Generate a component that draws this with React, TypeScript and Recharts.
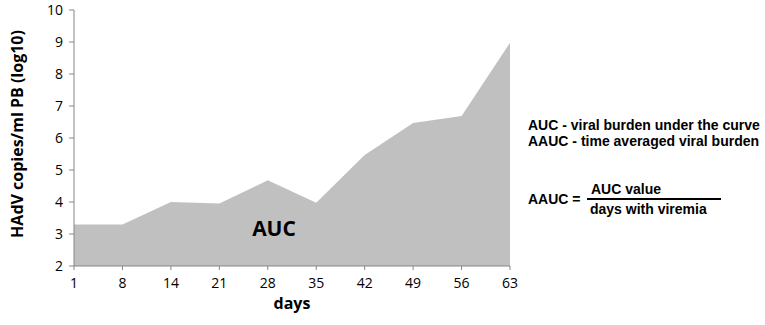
import { AreaChart, Area, XAxis, YAxis } from 'recharts';

const days = ['1', '8', '14', '21', '28', '35', '42', '49', '56', '63'];
const viralLoad = [3.3, 3.3, 4.0, 3.95, 4.68, 3.98, 5.47, 6.47, 6.69, 8.98];
const yTicks = [2, 3, 4, 5, 6, 7, 8, 9, 10];

const data = days.map((d, i) => ({ day: d, load: viralLoad[i] }));

const tickFont = { fontFamily: 'Open Sans', fontSize: 14, fill: '#000' };
const noteFont = { fontFamily: 'Liberation Sans', fontWeight: 700, fontSize: 14, color: '#000' };

export default function App() {
  return (
    <div style={{ position: 'absolute', top: 0, left: 0, width: 765, height: 325, background: '#fff' }}>
      <AreaChart width={765} height={325} data={data} margin={{ top: 10, right: 255, bottom: 29, left: 0 }}>
        <XAxis
          dataKey="day"
          height={30}
          tick={tickFont}
          tickSize={4}
          tickMargin={8}
          stroke="#868686"
          interval={0}
        />
        <YAxis
          width={74}
          domain={[2, 10]}
          ticks={yTicks}
          tick={tickFont}
          tickSize={5}
          tickMargin={6}
          stroke="#868686"
          allowDataOverflow
        />
        <Area
          type="linear"
          dataKey="load"
          stroke="none"
          fill="#c0c0c0"
          fillOpacity={1}
          baseValue={2}
          isAnimationActive={false}
        />
      </AreaChart>

      {/* axis titles */}
      <div style={{
        position: 'absolute', left: 17, top: 134, transform: 'translate(-50%, -50%) rotate(-90deg)',
        whiteSpace: 'nowrap', fontFamily: 'Open Sans', fontWeight: 700, fontSize: 16,
      }}>
        HAdV copies/ml PB (log10)
      </div>
      <div style={{
        position: 'absolute', left: 292, top: 303, transform: 'translate(-50%, -50%)',
        fontFamily: 'Open Sans', fontWeight: 700, fontSize: 16,
      }}>
        days
      </div>
      <div style={{
        position: 'absolute', left: 274, top: 228, transform: 'translate(-50%, -50%)',
        fontFamily: 'Open Sans', fontWeight: 700, fontSize: 21,
      }}>
        AUC
      </div>

      {/* notes */}
      <div style={{ ...noteFont, position: 'absolute', left: 528, top: 117, whiteSpace: 'nowrap' }}>
        AUC - viral burden under the curve
      </div>
      <div style={{ ...noteFont, position: 'absolute', left: 528, top: 133, whiteSpace: 'nowrap' }}>
        AAUC - time averaged viral burden
      </div>
      <div style={{ ...noteFont, position: 'absolute', left: 528, top: 191, whiteSpace: 'nowrap' }}>
        AAUC =
      </div>
      <div style={{ ...noteFont, position: 'absolute', left: 591, top: 181, whiteSpace: 'nowrap' }}>
        AUC value
      </div>
      <div style={{ position: 'absolute', left: 587, top: 198, width: 134, height: 2, background: '#000' }} />
      <div style={{ ...noteFont, position: 'absolute', left: 590, top: 201, whiteSpace: 'nowrap' }}>
        days with viremia
      </div>
    </div>
  );
}
